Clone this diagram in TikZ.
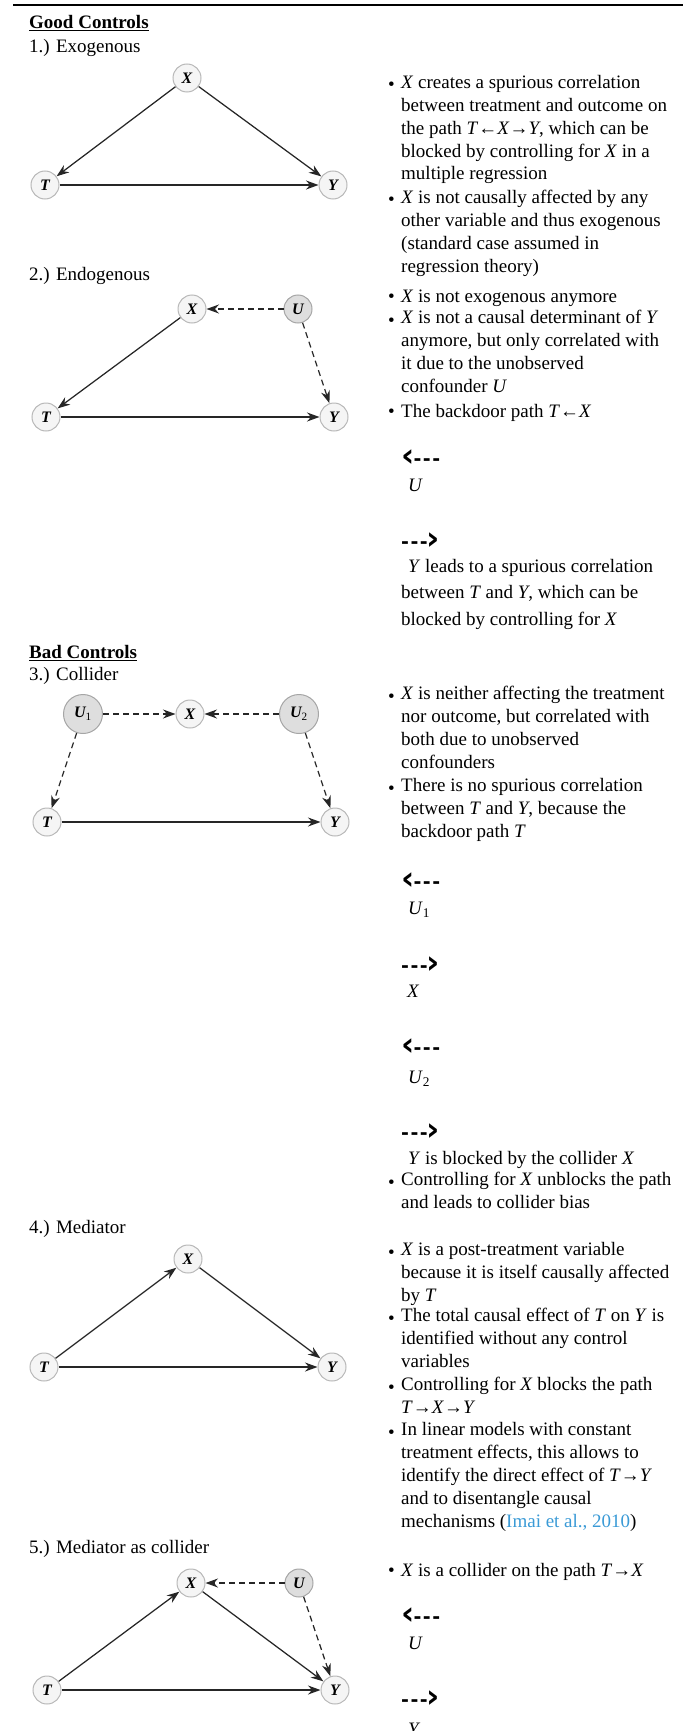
\documentclass[tikz,border=0pt]{standalone}
\usepackage{fontspec}
\setmainfont{Liberation Serif}
\newfontfamily\symfont{DejaVu Sans}
\usepackage{xcolor}
\usepackage{graphicx}
\usepackage{tikz}
\usetikzlibrary{arrows.meta,positioning}
\definecolor{nodefill}{HTML}{F5F5F5}
\definecolor{nodeline}{HTML}{B8B8B8}
\definecolor{latfill}{HTML}{DEDEDE}
\definecolor{latline}{HTML}{A6A6A6}
\definecolor{edgec}{HTML}{262626}
\definecolor{citec}{HTML}{3A9AD6}
\newcommand{\mi}[1]{\textit{#1}}
\newcommand{\ldash}{{\symfont\bfseries\raisebox{-1.6pt}{\scalebox{1.7}{‹}}\kern-1pt-\kern1.5pt-\kern1.5pt-}}
\newcommand{\rdash}{{\symfont\bfseries -\kern1.5pt-\kern1.5pt-\kern-1pt\raisebox{-1.6pt}{\scalebox{1.7}{›}}}}
\tikzset{
  var/.style={circle,draw=nodeline,fill=nodefill,line width=1pt,minimum size=28pt,inner sep=0pt,font=\fontsize{16}{16}\selectfont\bfseries\itshape},
  lat/.style={var,draw=latline,fill=latfill},
  latb/.style={lat,minimum size=39pt},
  ar/.style={-{Stealth[length=12.5pt,width=9pt]},line width=1.25pt,edgec},
  dar/.style={ar,dash pattern=on 6pt off 4pt},
  txt/.style={anchor=north west,yshift=16pt,align=left,inner sep=0pt,font=\fontsize{19}{22.9}\selectfont,execute at begin node={\rule{0pt}{16pt}}},
  bul/.style={anchor=base west,inner sep=0pt,font=\fontsize{19}{22.9}\selectfont}
}

\begin{document}
\begin{tikzpicture}[x=1pt,y=-1pt]
\useasboundingbox (0,0) rectangle (688,1731);
\coordinate (rl) at (13,5);
\coordinate (rr) at (683,5);
\draw[line width=2pt] (rl) -- (rr);

\node[txt] (good) at (29,28) {\underline{\textbf{Good Controls}}};
\node[txt] (l1) at (29,52) {1.) Exogenous};
\node[var] (x1) at (187,78) {X};
\node[var] (t1) at (45,185) {T};
\node[var] (y1) at (333,185) {Y};
\draw[ar] (x1) -- (t1);
\draw[ar] (x1) -- (y1);
\draw[ar] (t1) -- (y1);

\node[txt] (l2) at (29,280) {2.) Endogenous};
\node[var] (x2) at (192,309) {X};
\node[lat] (u2) at (298,309) {U};
\node[var] (t2) at (46,417) {T};
\node[var] (y2) at (334,417) {Y};
\draw[ar] (x2) -- (t2);
\draw[ar] (t2) -- (y2);
\draw[dar] (u2) -- (x2);
\draw[dar] (u2) -- (y2);

\node[txt] (bad) at (29,658) {\underline{\textbf{Bad Controls}}};
\node[txt] (l3) at (29,680) {3.) Collider};
\node[latb] (ua3) at (83,714) {U\textsubscript{\normalfont 1}};
\node[var] (x3) at (190,714) {X};
\node[latb] (ub3) at (299,714) {U\textsubscript{\normalfont 2}};
\node[var] (t3) at (47,822) {T};
\node[var] (y3) at (335,822) {Y};
\draw[dar] (ua3) -- (x3);
\draw[dar] (ub3) -- (x3);
\draw[dar] (ua3) -- (t3);
\draw[dar] (ub3) -- (y3);
\draw[ar] (t3) -- (y3);

\node[txt] (l4) at (29,1233) {4.) Mediator};
\node[var] (x4) at (188,1259) {X};
\node[var] (t4) at (44,1367) {T};
\node[var] (y4) at (332,1367) {Y};
\draw[ar] (t4) -- (x4);
\draw[ar] (x4) -- (y4);
\draw[ar] (t4) -- (y4);

\node[txt] (l5) at (29,1553) {5.) Mediator as collider};
\node[var] (x5) at (191,1583) {X};
\node[lat] (u5) at (299,1583) {U};
\node[var] (t5) at (47,1690) {T};
\node[var] (y5) at (335,1690) {Y};
\draw[ar] (t5) -- (x5);
\draw[ar] (x5) -- (y5);
\draw[ar] (t5) -- (y5);
\draw[dar] (u5) -- (x5);
\draw[dar] (u5) -- (y5);

\node[bul] (d1a) at (388,91) {•};
\node[txt] (b1a) at (401,91) {\mi{X} creates a spurious correlation\\between treatment and outcome on\\the path \mi{T}←\mi{X}→\mi{Y}, which can be\\blocked by controlling for \mi{X} in a\\multiple regression};
\node[bul] (d1b) at (388,206) {•};
\node[txt] (b1b) at (401,206) {\mi{X} is not causally affected by any\\other variable and thus exogenous\\(standard case assumed in\\regression theory)};

\node[bul] (d2a) at (388,302) {•};
\node[txt] (b2a) at (401,302) {\mi{X} is not exogenous anymore};
\node[bul] (d2b) at (388,326) {•};
\node[txt] (b2b) at (401,326) {\mi{X} is not a causal determinant of \mi{Y}\\anymore, but only correlated with\\it due to the unobserved\\confounder \mi{U}};
\node[bul] (d2c) at (388,417) {•};
\node[txt] (b2c) at (401,417) {The backdoor path \mi{T}←\mi{X}};
\node[txt] (g2a) at (401,465) {\ldash};
\node[txt] (v2a) at (408,491) {\mi{U}};
\node[txt] (g2b) at (401,548) {\rdash};
\node[txt,font=\fontsize{19}{26.5}\selectfont] (b2d) at (401,575) {\hspace*{7pt}\mi{Y} leads to a spurious correlation\\between \mi{T} and \mi{Y}, which can be\\blocked by controlling for \mi{X}};

\node[bul] (d3a) at (388,702) {•};
\node[txt] (b3a) at (401,702) {\mi{X} is neither affecting the treatment\\nor outcome, but correlated with\\both due to unobserved\\confounders};
\node[bul] (d3b) at (388,794) {•};
\node[txt] (b3b) at (401,794) {There is no spurious correlation\\between \mi{T} and \mi{Y}, because the\\backdoor path \mi{T}};
\node[txt] (g3a) at (401,888) {\ldash};
\node[txt] (v3a) at (408,914) {\mi{U}\textsubscript{1}};
\node[txt] (g3b) at (401,972) {\rdash};
\node[txt] (v3b) at (407,997) {\mi{X}};
\node[txt] (g3c) at (401,1054) {\ldash};
\node[txt] (v3c) at (408,1083) {\mi{U}\textsubscript{2}};
\node[txt] (g3d) at (401,1139) {\rdash};
\node[txt] (b3c) at (408,1164) {\mi{Y} is blocked by the collider \mi{X}};
\node[bul] (d3c) at (388,1188) {•};
\node[txt] (b3d) at (401,1188) {Controlling for \mi{X} unblocks the path\\and leads to collider bias};

\node[bul] (d4a) at (388,1258) {•};
\node[txt] (b4a) at (401,1258) {\mi{X} is a post-treatment variable\\because it is itself causally affected\\by \mi{T}};
\node[bul] (d4b) at (388,1324) {•};
\node[txt] (b4b) at (401,1324) {The total causal effect of \mi{T} on \mi{Y} is\\identified without any control\\variables};
\node[bul] (d4c) at (388,1393) {•};
\node[txt] (b4c) at (401,1393) {Controlling for \mi{X} blocks the path\\\mi{T}→\mi{X}→\mi{Y}};
\node[bul] (d4d) at (388,1438) {•};
\node[txt] (b4d) at (401,1438) {In linear models with constant\\treatment effects, this allows to\\identify the direct effect of \mi{T}→\mi{Y}\\and to disentangle causal\\mechanisms (\textcolor{citec}{Imai et al., 2010})};

\node[bul] (d5a) at (388,1576) {•};
\node[txt] (b5a) at (401,1576) {\mi{X} is a collider on the path \mi{T}→\mi{X}};
\node[txt] (g5a) at (401,1623) {\ldash};
\node[txt] (v5a) at (408,1649) {\mi{U}};
\node[txt] (g5b) at (401,1706) {\rdash};
\node[txt] (v5b) at (408,1735) {\mi{Y}};
\end{tikzpicture}
\end{document}
